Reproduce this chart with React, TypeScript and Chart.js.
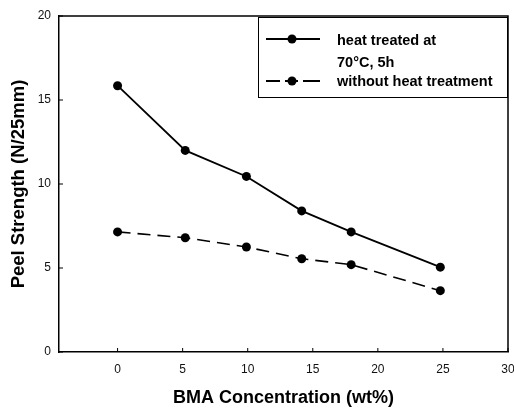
import React, { useEffect, useRef } from 'react';
import { Chart, registerables } from 'chart.js';
Chart.register(...registerables);

const bmaConcentration = [0, 5.2, 9.9, 14.15, 17.95, 24.8];
const heatTreated = [15.85, 12.0, 10.45, 8.4, 7.15, 5.05];
const withoutHeat = [7.15, 6.8, 6.25, 5.55, 5.2, 3.65];
const xTicks = [0, 5, 10, 15, 20, 25, 30];
const yTicks = [0, 5, 10, 15, 20];
const legendLines = ['heat treated at', '70\u00B0C, 5h', 'without heat treatment'];
const xTitle = 'BMA Concentration (wt%)';
const yTitle = 'Peel Strength (N/25mm)';

const FONT = "'Liberation Sans', Arial, sans-serif";

const framePlugin = {
  id: 'frame',
  afterDraw(chart: any) {
    const { ctx, chartArea: a, scales } = chart;
    ctx.save();
    ctx.strokeStyle = '#000';
    ctx.lineWidth = 1.5;
    ctx.beginPath();
    ctx.moveTo(a.left, a.top);
    ctx.lineTo(a.right, a.top);
    ctx.lineTo(a.right, a.bottom);
    ctx.stroke();
    ctx.lineWidth = 1;
    ctx.beginPath();
    xTicks.forEach((v) => {
      const px = scales.x.getPixelForValue(v);
      ctx.moveTo(px, a.bottom);
      ctx.lineTo(px, a.bottom - 4);
    });
    yTicks.forEach((v) => {
      const py = scales.y.getPixelForValue(v);
      ctx.moveTo(a.left, py);
      ctx.lineTo(a.left + 4, py);
    });
    ctx.stroke();

    // legend box
    const bw = 249, bh = 80;
    const bx = a.right - 1 - bw, by = a.top + 1;
    ctx.lineWidth = 1;
    ctx.strokeRect(bx + 0.5, by + 0.5, bw, bh);
    const lx0 = bx + 8, lx1 = bx + 62, mx = bx + 34;
    const y1 = by + 22, y3 = by + 64;
    ctx.lineWidth = 1.8;
    ctx.beginPath();
    ctx.moveTo(lx0, y1);
    ctx.lineTo(lx1, y1);
    ctx.stroke();
    ctx.beginPath();
    ctx.moveTo(lx0, y3);
    ctx.lineTo(lx0 + 14, y3);
    ctx.moveTo(lx0 + 19, y3);
    ctx.lineTo(lx0 + 32, y3);
    ctx.moveTo(lx0 + 37, y3);
    ctx.lineTo(lx1, y3);
    ctx.stroke();
    ctx.fillStyle = '#000';
    [y1, y3].forEach((yy) => {
      ctx.beginPath();
      ctx.arc(mx, yy, 4.5, 0, Math.PI * 2);
      ctx.fill();
    });
    ctx.font = `bold 14.5px ${FONT}`;
    ctx.textBaseline = 'middle';
    ctx.textAlign = 'left';
    const tx = bx + 79;
    ctx.fillText(legendLines[0], tx, by + 24);
    ctx.fillText(legendLines[1], tx, by + 46);
    ctx.fillText(legendLines[2], tx, by + 65);
    ctx.restore();
  },
};

export default function App() {
  const ref = useRef<HTMLCanvasElement>(null);
  useEffect(() => {
    document.body.style.margin = '0';
    const chart = new Chart(ref.current!, {
      type: 'line',
      data: {
        datasets: [
          {
            label: legendLines[0] + ' ' + legendLines[1],
            data: bmaConcentration.map((x, i) => ({ x, y: heatTreated[i] })),
            borderColor: '#000',
            backgroundColor: '#000',
            borderWidth: 1.8,
            pointRadius: 4.5,
            pointBackgroundColor: '#000',
            pointBorderWidth: 0,
          },
          {
            label: legendLines[2],
            data: bmaConcentration.map((x, i) => ({ x, y: withoutHeat[i] })),
            borderColor: '#000',
            backgroundColor: '#000',
            borderWidth: 1.6,
            borderDash: [13, 7],
            pointRadius: 4.5,
            pointBackgroundColor: '#000',
            pointBorderWidth: 0,
          },
        ],
      },
      options: {
        responsive: false,
        animation: false,
        layout: { padding: { top: 16, right: 6, left: 0, bottom: 0 } },
        plugins: { legend: { display: false }, tooltip: { enabled: false } },
        scales: {
          x: {
            type: 'linear',
            min: -4.5,
            max: 30,
            afterBuildTicks: (s: any) => {
              s.ticks = xTicks.map((v) => ({ value: v }));
            },
            afterFit: (s: any) => {
              s.height = 56;
              s.paddingLeft = 0;
              s.paddingRight = 0;
            },
            grid: { drawOnChartArea: false, drawTicks: false },
            border: { color: '#000', width: 1.5 },
            ticks: {
              color: '#111',
              padding: 10,
              maxRotation: 0,
              font: { family: FONT, size: 12 },
            },
            title: {
              display: true,
              text: xTitle,
              color: '#000',
              font: { family: FONT, size: 18, weight: 'bold', lineHeight: 1.1 },
              padding: { top: 0, bottom: 0 },
            },
          },
          y: {
            type: 'linear',
            min: 0,
            max: 20,
            afterBuildTicks: (s: any) => {
              s.ticks = yTicks.map((v) => ({ value: v }));
            },
            afterFit: (s: any) => {
              s.width = 59;
              s.paddingTop = 0;
              s.paddingBottom = 0;
            },
            grid: { drawOnChartArea: false, drawTicks: false },
            border: { color: '#000', width: 1.5 },
            ticks: {
              color: '#111',
              padding: 8,
              font: { family: FONT, size: 12 },
            },
            title: {
              display: true,
              text: yTitle,
              color: '#000',
              font: { family: FONT, size: 18.5, weight: 'bold', lineHeight: 1 },
              padding: { top: 10, bottom: 0 },
            },
          },
        },
      },
      plugins: [framePlugin],
    } as any);
    return () => chart.destroy();
  }, []);
  return <canvas ref={ref} width={514} height={408} style={{ display: 'block' }} />;
}
